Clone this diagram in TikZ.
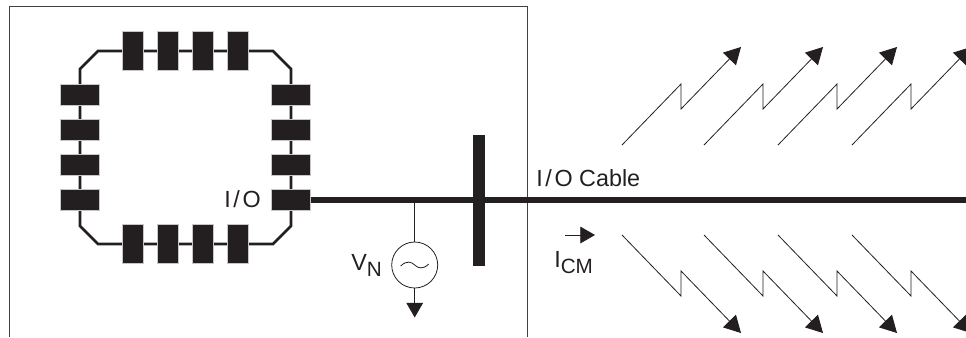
\documentclass[tikz,border=0pt]{standalone}
\usepackage{fontspec}
\setmainfont{Liberation Sans}
\usetikzlibrary{calc, positioning, arrows.meta}
\definecolor{inkblack}{HTML}{231F20}
\newcommand{\lowtext}[1]{\raisebox{-4.5pt}{\fontsize{15.5pt}{15.5pt}\selectfont #1}}
\newcommand{\slashgap}{\hspace{2pt}/\hspace{2pt}}

\begin{document}
\begin{tikzpicture}[
  x=0.75pt, y=-0.75pt,
  padh/.style={draw=black!22, line width=0.7pt, fill=inkblack, inner sep=0pt, minimum width=29pt, minimum height=15.6pt},
  padv/.style={draw=black!22, line width=0.7pt, fill=inkblack, inner sep=0pt, minimum width=15.6pt, minimum height=29pt},
  ring/.style={draw=inkblack, line width=2pt},
  cable/.style={draw=inkblack, line width=4pt},
  barline/.style={draw=inkblack, line width=8.4pt},
  frame/.style={draw=black!75, line width=0.7pt},
  wire/.style={draw=inkblack, line width=0.6pt},
  wirearrow/.style={draw=inkblack, line width=0.6pt, -{Triangle[length=11pt, width=12.5pt, fill=inkblack]}},
  zig/.style={draw=inkblack, line width=0.6pt, line join=miter, -{Triangle[length=12.5pt, width=13.5pt, fill=inkblack]}},
  lab/.style={font=\fontsize{17.5pt}{17.5pt}\selectfont, text=inkblack, inner sep=0pt, anchor=base west}
]
\useasboundingbox (0,0) rectangle (966,337);

% outer box, open at the bottom
\coordinate (BoxA) at (9.5,337);
\coordinate (BoxB) at (9.5,6.5);
\coordinate (BoxC) at (527,6.5);
\coordinate (BoxD) at (527,337);
\draw[frame] (BoxA) -- (BoxB) -- (BoxC) -- (BoxD);

% package outline
\coordinate (C1) at (98,51);
\coordinate (C2) at (273,51);
\coordinate (C3) at (291,69);
\coordinate (C4) at (291,226);
\coordinate (C5) at (273,244);
\coordinate (C6) at (98,244);
\coordinate (C7) at (80,226);
\coordinate (C8) at (80,69);
\draw[ring] (C1) -- (C2) -- (C3) -- (C4) -- (C5) -- (C6) -- (C7) -- (C8) -- cycle;

% pads
\foreach \i/\x in {1/133,2/168,3/203,4/238} {
  \node[padv] (T\i) at (\x,51) {};
  \node[padv] (B\i) at (\x,244) {};
}
\foreach \i/\y in {1/95,2/130,3/165,4/200} {
  \node[padh] (L\i) at (80,\y) {};
  \node[padh] (R\i) at (291,\y) {};
}

% cable and shield bar
\coordinate (CableEnd) at (966,200);
\draw[cable] (R4.east) -- (CableEnd);
\coordinate (BarTop) at (479,135);
\coordinate (BarBot) at (479,266);
\draw[barline] (BarTop) -- (BarBot);

% noise source
\coordinate (Tap) at (414.7,200);
\node[draw=inkblack, line width=0.6pt, circle, minimum size=34.5pt, inner sep=0pt] (VN) at (414.7,265) {};
\coordinate (Gnd) at (414.7,317.5);
\draw[wire] (Tap) -- (VN.north);
\draw[wirearrow] (VN.south) -- (Gnd);
\draw[wire] ($(VN.center)+(-14,1)$) .. controls ($(VN.center)+(-8,-5)$) and ($(VN.center)+(-3,-3)$) .. ($(VN.center)+(0,0)$)
  .. controls ($(VN.center)+(3,3)$) and ($(VN.center)+(8,5)$) .. ($(VN.center)+(14,-1)$);

% labels
\node[lab] (IOlab) at (224,207) {I\slashgap O};
\node[lab] (CableLab) at (536,186) {I\slashgap O Cable};
\node[lab] (VNlab) at (351,270) {V\lowtext{N}};
\node[lab] (ICMlab) at (554,267) {I\lowtext{CM}};

% current arrow
\coordinate (IA) at (565,235);
\coordinate (IB) at (595,235);
\draw[wirearrow] (IA) -- (IB);

% radiated current
\foreach \i/\x in {1/0,2/82,3/156,4/230} {
  \coordinate (Ua\i) at (622+\x,145);
  \coordinate (Ub\i) at (681+\x,84);
  \coordinate (Uc\i) at (681+\x,109);
  \coordinate (Ud\i) at (741+\x,47);
  \draw[zig] (Ua\i) -- (Ub\i) -- (Uc\i) -- (Ud\i);
  \coordinate (Da\i) at (622+\x,235);
  \coordinate (Db\i) at (681+\x,296);
  \coordinate (Dc\i) at (681+\x,271);
  \coordinate (Dd\i) at (741+\x,333);
  \draw[zig] (Da\i) -- (Db\i) -- (Dc\i) -- (Dd\i);
}

\end{tikzpicture}
\end{document}
